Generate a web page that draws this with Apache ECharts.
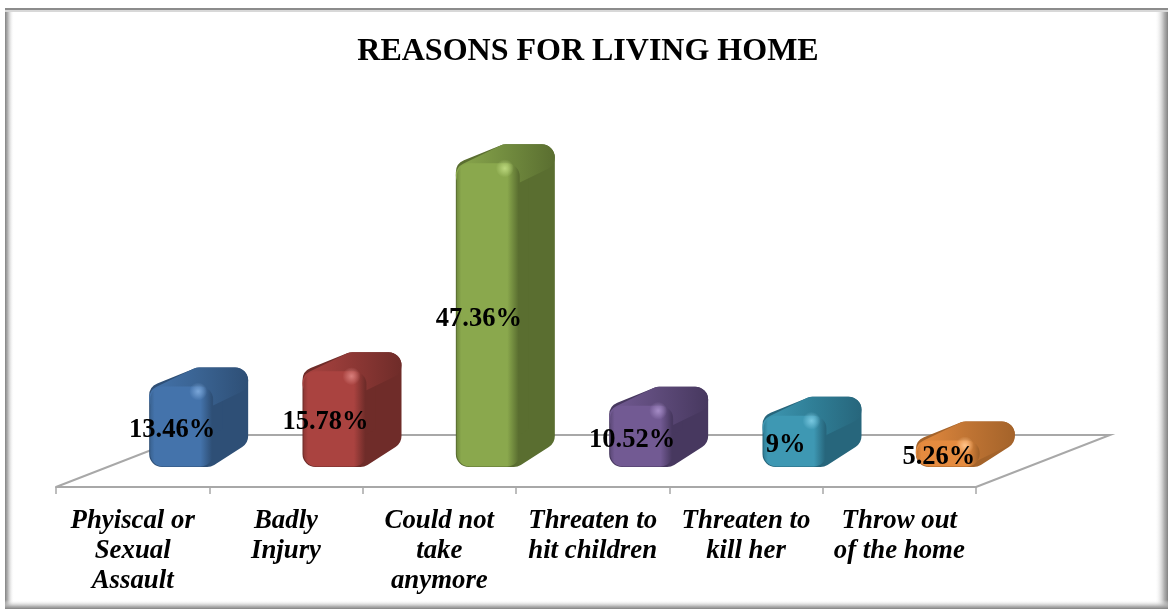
<!DOCTYPE html>
<html>
<head>
<meta charset="utf-8">
<style>html,body{margin:0;padding:0;background:#fff}#c{width:1169px;height:610px}</style>
<script src="https://cdn.jsdelivr.net/npm/echarts@6/dist/echarts.min.js"></script>
</head>
<body>
<div id="c"></div>
<script>
var titleText = 'REASONS FOR LIVING HOME';
var categories = ['Phyiscal or\nSexual\nAssault', 'Badly\nInjury', 'Could not\ntake\nanymore', 'Threaten to\nhit children', 'Threaten to\nkill her', 'Throw out\nof the home'];
var values = [13.46, 15.78, 47.36, 10.52, 9, 5.26];
var frontColors = ['#4473ab', '#aa4340', '#8aa84d', '#725a93', '#3e98b3', '#e58b3f'];
var sideColors = ['#2e4f76', '#6f2c29', '#5a6e30', '#47385f', '#27667c', '#a4632a'];
var topColors = ['#3a6392', '#8e3835', '#728c3f', '#5d4a79', '#307f97', '#c17534'];
var hiColors = ['#7aa6d8', '#d87f7c', '#bcd87e', '#a58cc6', '#79c8e0', '#ffc48a'];

var FONT = '"Liberation Serif", serif';
var GRAY = '#a8a8a8';
var FLOOR_DX = 134, FLOOR_DY = 52, AXIS_DROP = 31;
var FACE_W = 62, BAR_DX = 37, BAR_DY = 18, BAR_SHIFT = 16.5, BASE_DROP = 11;

function renderFloor(params, api) {
  var o = api.coord([0, 0]);
  var band = api.size([1, 0])[0];
  var left = o[0] - band / 2;
  var right = left + band * categories.length;
  var y = o[1] + AXIS_DROP;
  return {
    type: 'polyline',
    shape: { points: [[left, y], [left + FLOOR_DX, y - FLOOR_DY], [right + FLOOR_DX, y - FLOOR_DY], [right, y]] },
    style: { fill: null, stroke: GRAY, lineWidth: 2 }
  };
}

function renderBar(params, api) {
  var i = api.value(0), v = api.value(1), idx = params.dataIndex;
  var c0 = api.coord([i, 0]), c1 = api.coord([i, v]);
  var L = c0[0] + BAR_SHIFT, R = L + FACE_W;
  var Bf = c0[1] + BASE_DROP, Tb = c1[1], Tf = Tb + BAR_DY;
  var r = Math.min(13, (Bf - Tf) / 2);
  var dx = BAR_DX, dy = BAR_DY;
  var F = frontColors[idx], S = sideColors[idx], T = topColors[idx], H = hiColors[idx];
  var LG = echarts.graphic.LinearGradient;
  function topFill() {
    return new LG(0, 0, 1, 0, [{ offset: 0, color: F }, { offset: 0.5, color: T }, { offset: 1, color: S }]);
  }
  return {
    type: 'group',
    children: [
      { type: 'polygon',
        shape: { points: [[L + r, Bf - r], [L + r, Tf + r - 3], [L + dx + r, Tb + r], [R + dx - r, Tb + r], [R + dx - r, Bf - dy - r], [R - 4, Bf - r]] },
        style: { fill: S, stroke: S, lineWidth: 2 * r, lineJoin: 'round' } },
      { type: 'polygon',
        shape: { points: [[L + r, Tf + r], [L + dx + r, Tb + r], [R + dx - r, Tb + r], [R - r, Tf + r]] },
        style: { fill: topFill(), stroke: topFill(), lineWidth: 2 * r, lineJoin: 'round' } },
      { type: 'rect',
        shape: { x: L + 1, y: Tf + 1, width: FACE_W + 1, height: Bf - Tf - 1.5, r: r },
        style: { fill: new LG(0, 0, 1, 0, [
          { offset: 0, color: T }, { offset: 0.07, color: F }, { offset: 0.8, color: F }, { offset: 0.98, color: S }, { offset: 1, color: S }
        ]) } },
      { type: 'circle',
        shape: { cx: R - 13, cy: Tf + 6, r: 9 },
        style: { fill: new echarts.graphic.RadialGradient(0.5, 0.5, 0.5, [
          { offset: 0, color: H }, { offset: 1, color: H + '00' }
        ]) } },
      { type: 'text',
        x: L + 23, y: (Tf + Bf) / 2 + 4,
        style: { text: v + '%', fill: '#000', font: 'bold 26.5px ' + FONT, textAlign: 'center', textVerticalAlign: 'middle' } }
    ]
  };
}

var chart = echarts.init(document.getElementById('c'), null, { renderer: 'canvas' });
function fade(x, y, w, h, x0, y0, x1, y1, stops) {
  return { type: 'rect', silent: true, z: 100, shape: { x: x, y: y, width: w, height: h },
    style: { fill: new echarts.graphic.LinearGradient(x0, y0, x1, y1, stops) } };
}
var edge = [{ offset: 0, color: 'rgba(130,130,130,1)' }, { offset: 0.3, color: 'rgba(170,170,170,0.9)' }, { offset: 1, color: 'rgba(255,255,255,0)' }];
chart.setOption({
  animation: false,
  backgroundColor: '#fff',
  title: { text: titleText, left: 583, top: 31, textAlign: 'center',
    textStyle: { fontFamily: FONT, fontWeight: 'bold', fontSize: 32, color: '#000' } },
  grid: { left: 56, right: 193, top: 127, bottom: 154 },
  xAxis: { type: 'category', data: categories, offset: AXIS_DROP, boundaryGap: true,
    axisLine: { show: true, onZero: false, lineStyle: { color: GRAY, width: 2 } },
    axisTick: { show: true, length: 7, lineStyle: { color: GRAY, width: 1.5 } },
    axisLabel: { interval: 0, margin: 19, lineHeight: 30, color: '#000', fontFamily: FONT, fontWeight: 'bold', fontStyle: 'italic', fontSize: 26.8 } },
  yAxis: { type: 'value', min: 0, max: 50, show: false, splitLine: { show: false } },
  graphic: [
    fade(5, 8, 9, 601, 0, 0, 1, 0, edge),
    fade(1155, 8, 13, 601, 1, 0, 0, 0, edge),
    fade(5, 600, 1163, 9, 0, 1, 0, 0, edge),
    { type: 'rect', silent: true, z: 101, shape: { x: 5, y: 8, width: 1163, height: 2 }, style: { fill: '#8c8c8c' } },
    { type: 'rect', silent: true, z: 101, shape: { x: 5, y: 10, width: 1163, height: 2 }, style: { fill: '#d8d8d8' } }
  ],
  series: [
    { type: 'custom', silent: true, z: 1, clip: false, renderItem: renderFloor, data: [[0, 0]], encode: { x: 0, y: 1 } },
    { type: 'custom', silent: true, z: 2, clip: false, renderItem: renderBar, encode: { x: 0, y: 1 },
      data: values.map(function (v, i) { return [i, v]; }) }
  ]
});
</script>
</body>
</html>
